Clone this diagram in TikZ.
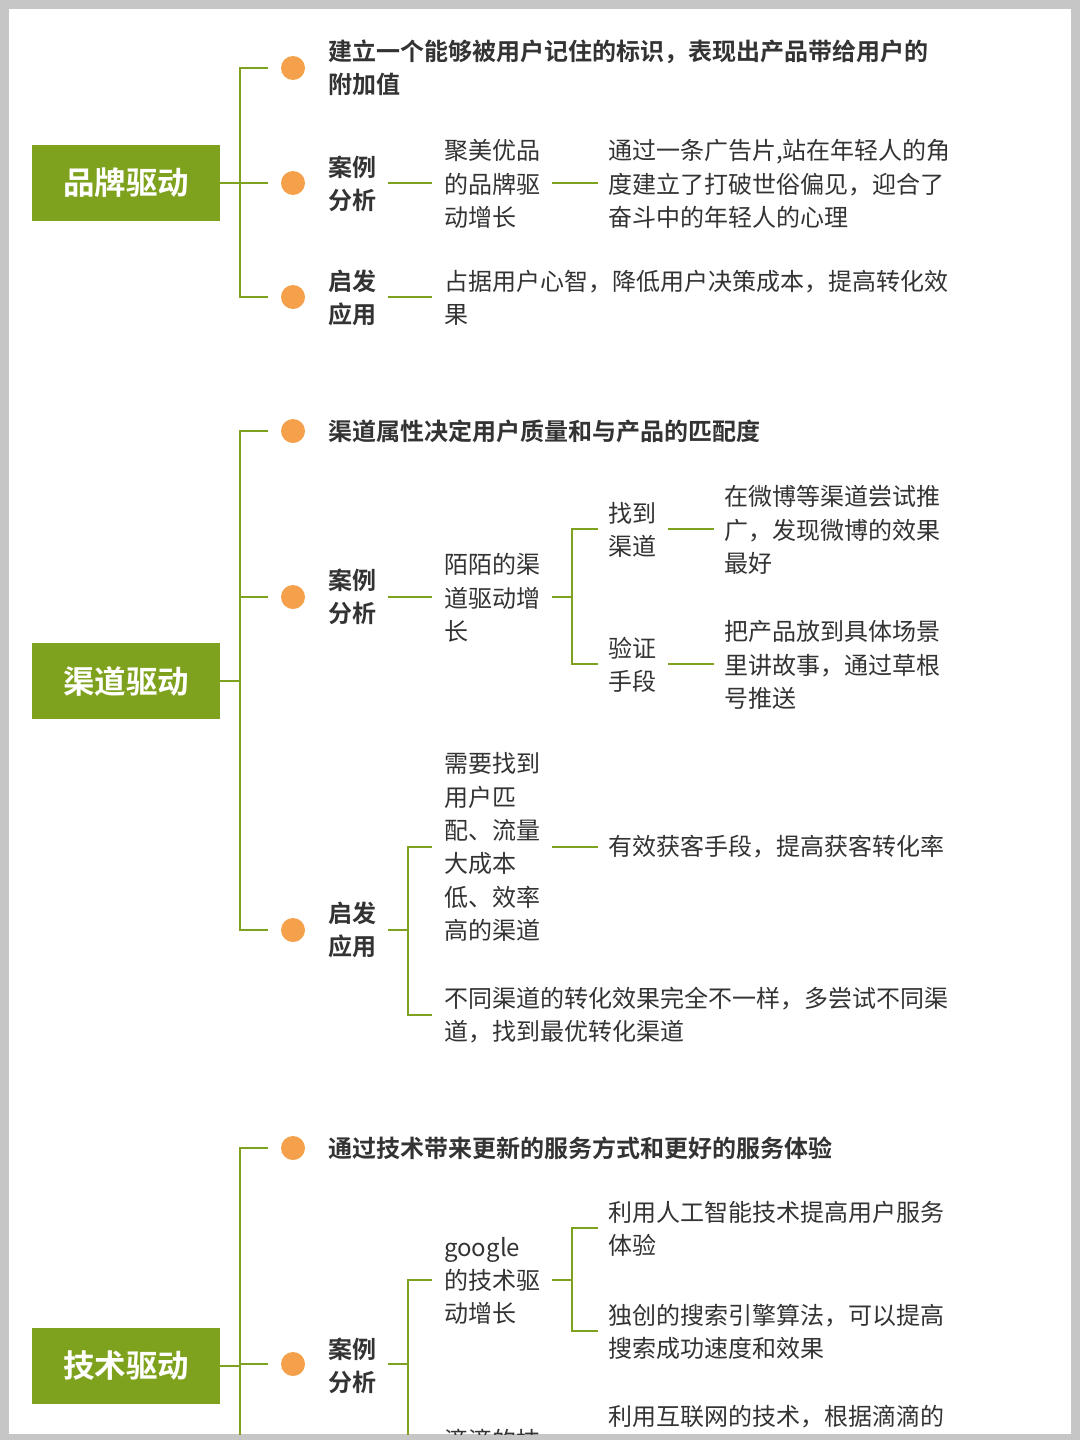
\documentclass[tikz,border=0pt]{standalone}
\usepackage{fontspec}
\setmainfont{Noto Sans CJK SC}[BoldFont={Noto Sans CJK SC Bold}]
\begin{document}
\begin{tikzpicture}[x=1pt,y=-1pt,
 ln/.style={draw=grn,line width=2.6pt},
 box/.style={fill=grn,text=white,font=\fontsize{31.5}{36}\selectfont\bfseries,minimum width=188pt,minimum height=76pt,inner sep=0},
 dot/.style={circle,fill=org,minimum size=24pt,inner sep=0},
 t/.style={anchor=west,align=left,inner sep=0,text=txt,font=\fontsize{24}{33.3}\selectfont},
 b/.style={t,font=\fontsize{24}{33.3}\selectfont\bfseries}]
\definecolor{grn}{HTML}{7FA21E}
\definecolor{org}{HTML}{F5A04A}
\definecolor{txt}{HTML}{333333}
\useasboundingbox (0,0) rectangle (1080,1440);
\fill[gray!45] (0,0) rectangle (1080,1440);
\fill[white] (9,9) rectangle (1071,1434);
\begin{scope}
\clip (9,9) rectangle (1071,1434);
% section 1
\node[box] (b1) at (126,183) {品牌驱动};
\draw[ln] (220,183)--(240,183) (268,68)--(240,68)--(240,297)--(268,297) (240,183)--(268,183);
\foreach \y in {68,183,297} \node[dot] at (293,\y) {};
\node[b] at (328,68) {建立一个能够被用户记住的标识，表现出产品带给用户的\\附加值};
\node[b] (a1) at (328,184) {案例\\分析};
\node[t] (j1) at (444,184) {聚美优品\\的品牌驱\\动增长};
\node[t] at (608,184) {通过一条广告片,站在年轻人的角\\度建立了打破世俗偏见，迎合了\\奋斗中的年轻人的心理};
\draw[ln] (388,183)--(432,183) (552,183)--(598,183);
\node[b] at (328,298) {启发\\应用};
\draw[ln] (388,297)--(432,297);
\node[t] at (444,298) {占据用户心智，降低用户决策成本，提高转化效\\果};
% section 2
\node[box] (b2) at (126,681) {渠道驱动};
\draw[ln] (220,681)--(240,681) (268,431)--(240,431)--(240,930)--(268,930) (240,597)--(268,597);
\foreach \y in {431,597,930} \node[dot] at (293,\y) {};
\node[b] at (328,431) {渠道属性决定用户质量和与产品的匹配度};
\node[b] at (328,597) {案例\\分析};
\draw[ln] (388,597)--(432,597);
\node[t] at (444,598) {陌陌的渠\\道驱动增\\长};
\draw[ln] (552,597)--(572,597) (598,529)--(572,529)--(572,664)--(598,664);
\node[t] at (608,530) {找到\\渠道};
\draw[ln] (668,529)--(714,529);
\node[t] at (724,530) {在微博等渠道尝试推\\广，发现微博的效果\\最好};
\node[t] at (608,665) {验证\\手段};
\draw[ln] (668,664)--(714,664);
\node[t] at (724,665) {把产品放到具体场景\\里讲故事，通过草根\\号推送};
\node[b] at (328,930) {启发\\应用};
\draw[ln] (388,930)--(408,930) (432,847)--(408,847)--(408,1015)--(432,1015);
\node[t] at (444,847) {需要找到\\用户匹\\配、流量\\大成本\\低、效率\\高的渠道};
\draw[ln] (552,847)--(598,847);
\node[t] at (608,847) {有效获客手段，提高获客转化率};
\node[t] at (444,1015) {不同渠道的转化效果完全不一样，多尝试不同渠\\道，找到最优转化渠道};
% section 3
\node[box] (b3) at (126,1366) {技术驱动};
\draw[ln] (220,1366)--(240,1366) (268,1148)--(240,1148)--(240,1440) (240,1364)--(268,1364);
\foreach \y in {1148,1364} \node[dot] at (293,\y) {};
\node[b] at (328,1148) {通过技术带来更新的服务方式和更好的服务体验};
\node[b] at (328,1366) {案例\\分析};
\draw[ln] (388,1364)--(408,1364) (432,1280)--(408,1280)--(408,1440);
\node[t] at (444,1281) {google\\的技术驱\\动增长};
\draw[ln] (552,1280)--(572,1280) (598,1228)--(572,1228)--(572,1331)--(598,1331);
\node[t] at (608,1229) {利用人工智能技术提高用户服务\\体验};
\node[t] at (608,1332) {独创的搜索引擎算法，可以提高\\搜索成功速度和效果};
\node[t] at (608,1417) {利用互联网的技术，根据滴滴的};
\node[t] at (444,1440) {滴滴的技};
\end{scope}
\end{tikzpicture}
\end{document}
